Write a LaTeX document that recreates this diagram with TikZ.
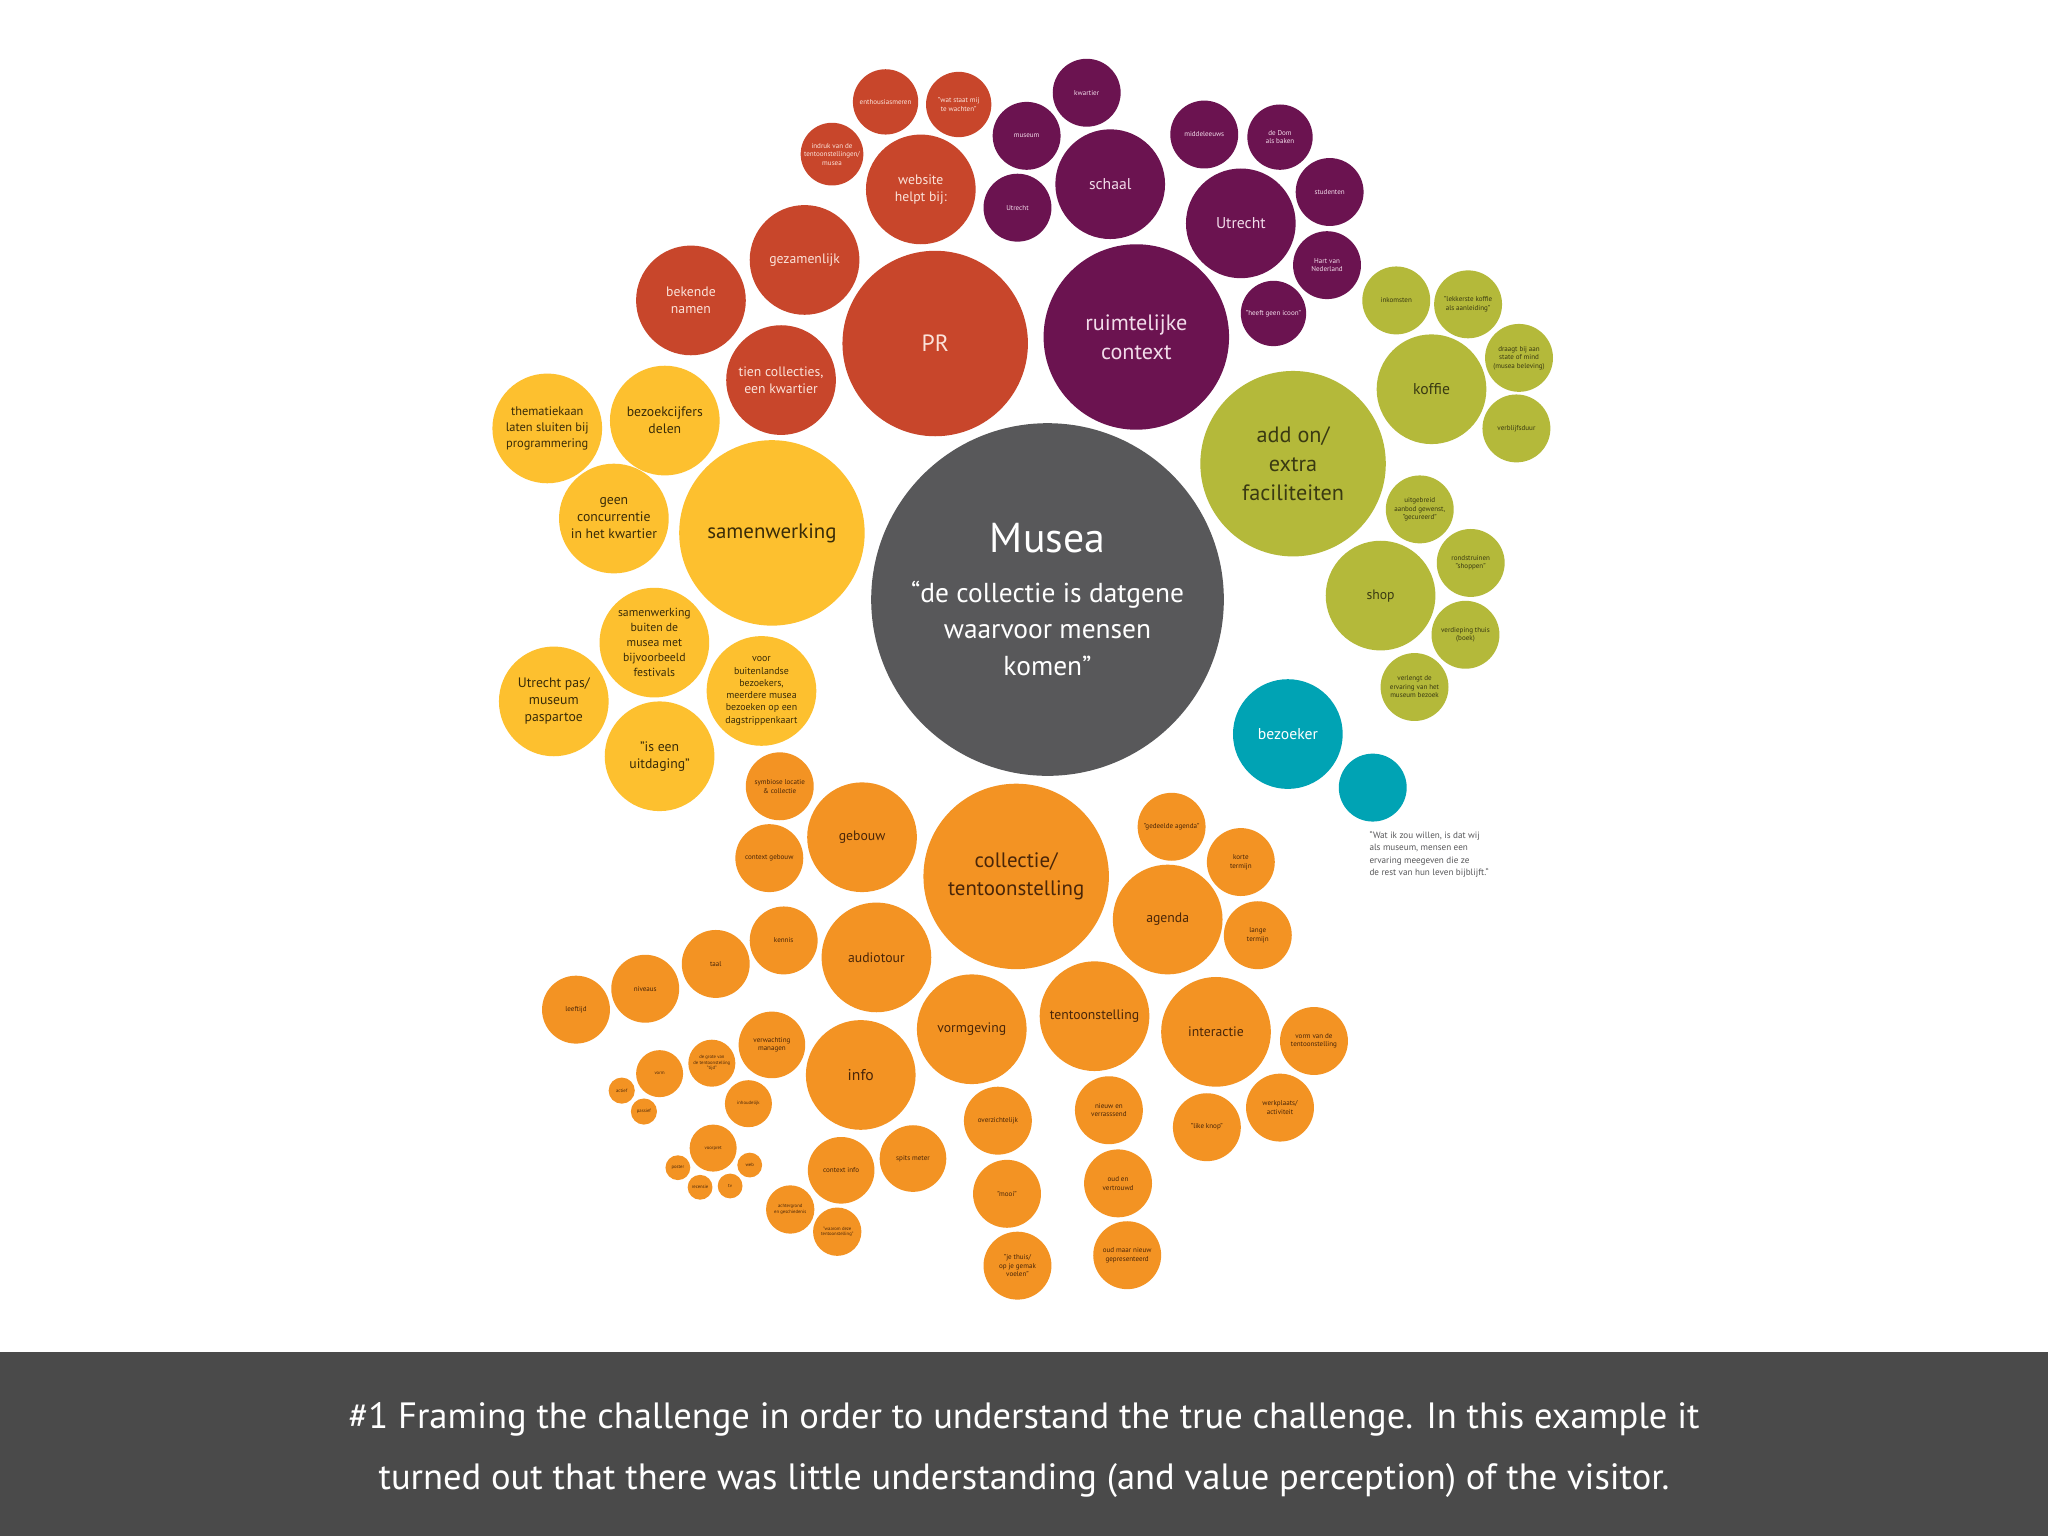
\documentclass[tikz,border=0pt]{standalone}
\usepackage{fontspec}
\setmainfont{PT Sans}
\definecolor{cR}{HTML}{C8462B}
\definecolor{cP}{HTML}{6B1350}
\definecolor{cG}{HTML}{B4B93A}
\definecolor{cY}{HTML}{FDC02F}
\definecolor{cO}{HTML}{F39323}
\definecolor{cM}{HTML}{58585A}
\definecolor{cT}{HTML}{00A3B4}
\definecolor{cF}{HTML}{4A4A4A}
\definecolor{tR}{HTML}{FBE3DA}
\definecolor{tP}{HTML}{F2DCEA}
\definecolor{tG}{HTML}{3A3A12}
\definecolor{tY}{HTML}{3A2C08}
\definecolor{tO}{HTML}{4A2608}
\tikzset{
 bub/.style={circle,inner sep=0pt,align=center,minimum size=#1pt},
 red/.style={bub=#1,fill=cR,text=tR},
 pur/.style={bub=#1,fill=cP,text=tP},
 grn/.style={bub=#1,fill=cG,text=tG},
 yel/.style={bub=#1,fill=cY,text=tY},
 org/.style={bub=#1,fill=cO,text=tO},
 fa/.style={font=\fontsize{3.6pt}{4.3pt}\selectfont},
 fb/.style={font=\fontsize{5.4pt}{6.5pt}\selectfont},
 fc/.style={font=\fontsize{10.5pt}{13pt}\selectfont},
 fd/.style={font=\fontsize{12pt}{14pt}\selectfont},
 fe/.style={font=\fontsize{17pt}{22pt}\selectfont},
}
\begin{document}
\begin{tikzpicture}[x=1pt,y=-1pt]
\useasboundingbox (0,0) rectangle (1568,1176);
\fill[white] (0,0) rectangle (1568,1176);
% red
\node[red=50,fb] (r1) at (678,78) {enthousiasmeren};
\node[red=50,fb] (r2) at (734,80) {"wat staat mij\\te wachten"};
\node[red=48,fb] (r3) at (637,118) {indruk van de\\tentoonstellingen/\\musea};
\node[red=84,fc] (r4) at (705,145) {website\\helpt bij:};
\node[red=84,fc] (r5) at (616,199) {gezamenlijk};
\node[red=84,fc] (r6) at (529,230) {bekende\\namen};
\node[red=142,font=\fontsize{18pt}{22pt}\selectfont] (r7) at (716,263) {PR};
\node[red=84,fc] (r8) at (598,291) {tien collecties,\\een kwartier};
% purple
\node[pur=52,fb] (p1) at (832,71) {kwartier};
\node[pur=52,fb] (p2) at (786,104) {museum};
\node[pur=52,fb] (p3) at (779,159) {Utrecht};
\node[pur=84,fd] (p4) at (850,141) {schaal};
\node[pur=52,fb] (p5) at (922,103) {middeleeuws};
\node[pur=50,fb] (p6) at (980,105) {de Dom\\als baken};
\node[pur=52,fb] (p7) at (1018,147) {studenten};
\node[pur=84,fd] (p8) at (950,171) {Utrecht};
\node[pur=52,fb] (p9) at (1016,203) {Hart van\\Nederland};
\node[pur=50,fb] (p10) at (975,240) {"heeft geen icoon"};
\node[pur=142,fe] (p11) at (870,258) {ruimtelijke\\context};
% green
\node[grn=52,fb] (g1) at (1069,230) {inkomsten};
\node[grn=52,fb] (g2) at (1124,233) {"lekkerste koffie\\als aanleiding"};
\node[grn=84,fd] (g3) at (1096,298) {koffie};
\node[grn=52,fb] (g4) at (1163,274) {draagt bij aan\\state of mind\\(musea beleving)};
\node[grn=52,fb] (g5) at (1161,328) {verblijfsduur};
\node[grn=142,fe] (g6) at (990,355) {add on/\\extra\\faciliteiten};
\node[grn=52,fb] (g7) at (1087,390) {uitgebreid\\aanbod gewenst,\\"gecureerd"};
\node[grn=52,fb] (g8) at (1126,431) {rondstruinen\\"shoppen"};
\node[grn=84,fc] (g9) at (1057,456) {shop};
\node[grn=52,fb] (g10) at (1122,486) {verdieping thuis\\(boek)};
\node[grn=52,fb] (g11) at (1083,526) {verlengt de\\ervaring van het\\museum bezoek};
% yellow
\node[yel=84,font=\fontsize{9.5pt}{12pt}\selectfont] (y1) at (419,328) {thematiekaan\\laten sluiten bij\\programmering};
\node[yel=84,fc] (y2) at (509,322) {bezoekcijfers\\delen};
\node[yel=142,font=\fontsize{16pt}{20pt}\selectfont] (y3) at (591,408) {samenwerking};
\node[yel=84,fc] (y4) at (470,397) {geen\\concurrentie\\in het kwartier};
\node[yel=84,font=\fontsize{9pt}{11.5pt}\selectfont] (y5) at (501,492) {samenwerking\\buiten de\\musea met\\bijvoorbeeld\\festivals};
\node[yel=84,fc] (y6) at (424,537) {Utrecht pas/\\museum\\paspartoe};
\node[yel=84,font=\fontsize{7.6pt}{9.4pt}\selectfont] (y7) at (583,529) {voor\\buitenlandse\\bezoekers,\\meerdere musea\\bezoeken op een\\dagstrippenkaart};
\node[yel=84,fc] (y8) at (505,579) {"is een\\uitdaging"};
% center
\node[bub=270,fill=cM,text=white,font=\fontsize{21pt}{28pt}\selectfont] (m) at (802,459) {\fontsize{32pt}{40pt}\selectfont Musea\\[10pt]\fontsize{21pt}{28pt}\selectfont “de collectie is datgene\\waarvoor mensen\\komen”};
% teal
\node[bub=84,fill=cT,text=white,fd] (t1) at (986,562) {bezoeker};
\node[bub=52,fill=cT] (t2) at (1051,603) {};
\node[anchor=north west,align=left,text=cM,font=\fontsize{7pt}{9.5pt}\selectfont] (q) at (1045,633) {“Wat ik zou willen, is dat wij\\als museum, mensen een\\ervaring meegeven die ze\\de rest van hun leven bijblijft.“};
% orange
\node[org=52,fb] (o1) at (597,602) {symbiose locatie\\\& collectie};
\node[org=52,fb] (o2) at (589,657) {context gebouw};
\node[org=84,fc] (o3) at (660,641) {gebouw};
\node[org=142,font=\fontsize{16pt}{21pt}\selectfont] (o4) at (778,671) {collectie/\\tentoonstelling};
\node[org=52,fb] (o5) at (897,633) {"gedeelde agenda"};
\node[org=52,fb] (o6) at (950,660) {korte\\termijn};
\node[org=84,fc] (o7) at (894,704) {agenda};
\node[org=52,fb] (o8) at (963,716) {lange\\termijn};
\node[org=52,fb] (o9) at (600,720) {kennis};
\node[org=84,fc] (o10) at (671,733) {audiotour};
\node[org=52,fb] (o11) at (548,738) {taal};
\node[org=52,fb] (o12) at (494,757) {niveaus};
\node[org=52,fb] (o13) at (441,773) {leeftijd};
\node[org=84,fc] (o14) at (744,788) {vormgeving};
\node[org=84,fc] (o15) at (838,778) {tentoonstelling};
\node[org=84,fc] (o16) at (931,790) {interactie};
\node[org=52,fb] (o17) at (1006,797) {vorm van de\\tentoonstelling};
\node[org=52,fb] (o18) at (980,848) {werkplaats/\\activiteit};
\node[org=51,fb] (o19) at (591,800) {verwachting\\managen};
\node[org=84,fd] (o20) at (659,823) {info};
\node[org=36,fa] (o21) at (545,814) {de grote van\\de tentoonstelling\\"tijd"};
\node[org=36,fa] (o22) at (505,822) {vorm};
\node[org=20,fa] (o23) at (476,835) {actief};
\node[org=20,fa] (o24) at (493,851) {passief};
\node[org=36,fa] (o25) at (573,845) {inhoudelijk};
\node[org=36,fa] (o26) at (546,879) {voorpret};
\node[org=19,fa] (o27) at (519,894) {poster};
\node[org=19,fa] (o28) at (574,892) {web};
\node[org=19,fa] (o29) at (536,909) {recensie};
\node[org=19,fa] (o30) at (559,908) {tv};
\node[org=51,fb] (o31) at (644,896) {context info};
\node[org=51,fb] (o32) at (699,887) {spits meter};
\node[org=37,fa] (o33) at (605,926) {achtergrond\\en geschiedenis};
\node[org=37,fa] (o34) at (641,943) {"waarom deze\\tentoonstelling"};
\node[org=52,fb] (o35) at (764,858) {overzichtelijk};
\node[org=52,fb] (o36) at (771,914) {"mooi"};
\node[org=52,fb] (o37) at (779,969) {"je thuis/\\op je gemak\\voelen"};
\node[org=52,fb] (o38) at (849,850) {nieuw en\\verrasssend};
\node[org=52,fb] (o39) at (856,906) {oud en\\vertrouwd};
\node[org=52,fb] (o40) at (863,961) {oud maar nieuw\\gepresenteerd};
\node[org=52,fb] (o41) at (924,863) {"like knop"};
% footer
\fill[cF] (0,1035) rectangle (1568,1176);
\node[text=white,align=center,font=\fontsize{28pt}{47pt}\selectfont] (f) at (784,1110) {\#1 Framing the challenge in order to understand the true challenge. In this example it\\turned out that there was little understanding (and value perception) of the visitor.};
\end{tikzpicture}
\end{document}
